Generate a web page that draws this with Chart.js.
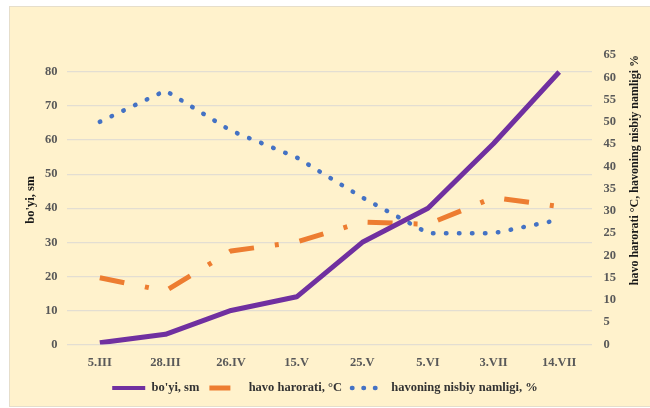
<!DOCTYPE html>
<html>
<head>
<meta charset="utf-8">
<script src="https://cdn.jsdelivr.net/npm/chart.js@4"></script>
<style>
  html, body { margin: 0; padding: 0; background: #ffffff; }
  #panel { position: absolute; left: 9px; top: 6px; width: 640px; height: 399px;
           background: #FFF2CC; border: 1px solid #E6DECB; border-right: none; }
  #wrap { position: absolute; left: 0; top: 0; width: 650px; height: 408px; }
</style>
</head>
<body>
<div id="panel"></div>
<div id="wrap"><canvas id="c" width="650" height="408"></canvas></div>
<script>
const categories = ['5.III', '28.III', '26.IV', '15.V', '25.V', '5.VI', '3.VII', '14.VII'];
const plantHeight = [0.5, 3, 10, 14, 30, 40, 59, 80];          // bo'yi, sm (left axis)
const airTemperature = [15, 12, 21, 23, 27.5, 27, 33, 31];      // havo harorati, °C (right axis)
const relativeHumidity = [50, 57, 48, 42, 33, 25, 25, 28];      // havoning nisbiy namligi, % (right axis)

const seriesNames = ["bo'yi, sm", 'havo harorati, °C', 'havoning nisbiy namligi, %'];
const leftTitle = "bo'yi, sm";
const rightTitle = 'havo harorati °C, havoning nisbiy namligi %';

const FONT = "'Liberation Serif', 'Times New Roman', serif";
Chart.defaults.font.family = FONT;

const legendStyles = [
  { dash: [], cap: 'butt', width: 4 },
  { dash: [21, 40], cap: 'butt', width: 5 },
  { dash: [0.5, 11], cap: 'round', width: 4.5 }
];

const rightTitlePlugin = {
  id: 'rightTitle',
  afterDraw(chart) {
    const ctx = chart.ctx;
    const area = chart.chartArea;
    ctx.save();
    ctx.font = 'bold 12px ' + FONT;
    ctx.fillStyle = '#1a1a1a';
    ctx.translate(635, area.top);
    ctx.rotate(-Math.PI / 2);
    ctx.textAlign = 'right';
    ctx.textBaseline = 'middle';
    ctx.fillText(rightTitle, 0, 0);
    ctx.restore();
  }
};

new Chart(document.getElementById('c'), {
  type: 'line',
  data: {
    labels: categories,
    datasets: [
      {
        label: seriesNames[0],
        data: plantHeight,
        yAxisID: 'y',
        borderColor: '#7030A0',
        backgroundColor: '#7030A0',
        borderWidth: 5,
        borderJoinStyle: 'round',
        pointRadius: 0,
        tension: 0
      },
      {
        label: seriesNames[1],
        data: airTemperature,
        yAxisID: 'y1',
        borderColor: '#ED7D31',
        backgroundColor: '#ED7D31',
        borderWidth: 5,
        borderDash: [25, 21, 4, 21],
        borderJoinStyle: 'round',
        pointRadius: 0,
        tension: 0
      },
      {
        label: seriesNames[2],
        data: relativeHumidity,
        yAxisID: 'y1',
        borderColor: '#4472C4',
        backgroundColor: '#4472C4',
        borderWidth: 4.5,
        borderCapStyle: 'round',
        borderDash: [0.5, 12.5],
        pointRadius: 0,
        tension: 0
      }
    ]
  },
  options: {
    responsive: false,
    animation: false,
    devicePixelRatio: 1,
    layout: { padding: { top: 55, bottom: 3.75, left: 0, right: 0 } },
    plugins: {
      legend: {
        position: 'bottom',
        labels: {
          usePointStyle: true,
          pointStyle: 'line',
          pointStyleWidth: 33,
          padding: 10,
          color: '#333333',
          font: { size: 12.5, weight: 'bold', family: FONT },
          generateLabels(chart) {
            const items = Chart.defaults.plugins.legend.labels.generateLabels(chart);
            items.forEach((it, i) => {
              const s = legendStyles[i];
              it.lineDash = s.dash;
              it.lineCap = s.cap;
              it.lineWidth = s.width;
              it.strokeStyle = chart.data.datasets[i].borderColor;
              it.fillStyle = chart.data.datasets[i].borderColor;
              it.pointStyle = 'line';
            });
            return items;
          }
        }
      },
      tooltip: { enabled: false }
    },
    scales: {
      x: {
        offset: true,
        grid: { display: false },
        border: { display: false },
        ticks: { color: '#595959', padding: 3, maxRotation: 0, autoSkip: false,
                 font: { size: 12.5, weight: 'bold', family: FONT } },
        afterFit(scale) { scale.height = 27.25; }
      },
      y: {
        position: 'left',
        min: 0, max: 85,
        grid: { color: '#E3DED2', lineWidth: 1.3, drawTicks: false },
        border: { display: false },
        ticks: { stepSize: 10, includeBounds: false, color: '#595959', padding: 9.5,
                 font: { size: 12.5, weight: 'bold', family: FONT } },
        title: { display: true, text: leftTitle, color: '#1a1a1a', padding: { top: 23, bottom: 0 },
                 font: { size: 12.5, weight: 'bold', family: FONT } },
        afterFit(scale) { scale.width = 67; }
      },
      y1: {
        position: 'right',
        min: 0, max: 65,
        grid: { display: false, drawTicks: false },
        border: { display: false },
        ticks: { stepSize: 5, color: '#595959', padding: 11.5,
                 font: { size: 12.5, weight: 'bold', family: FONT } },
        afterFit(scale) { scale.width = 58; }
      }
    }
  },
  plugins: [rightTitlePlugin]
});
</script>
</body>
</html>
